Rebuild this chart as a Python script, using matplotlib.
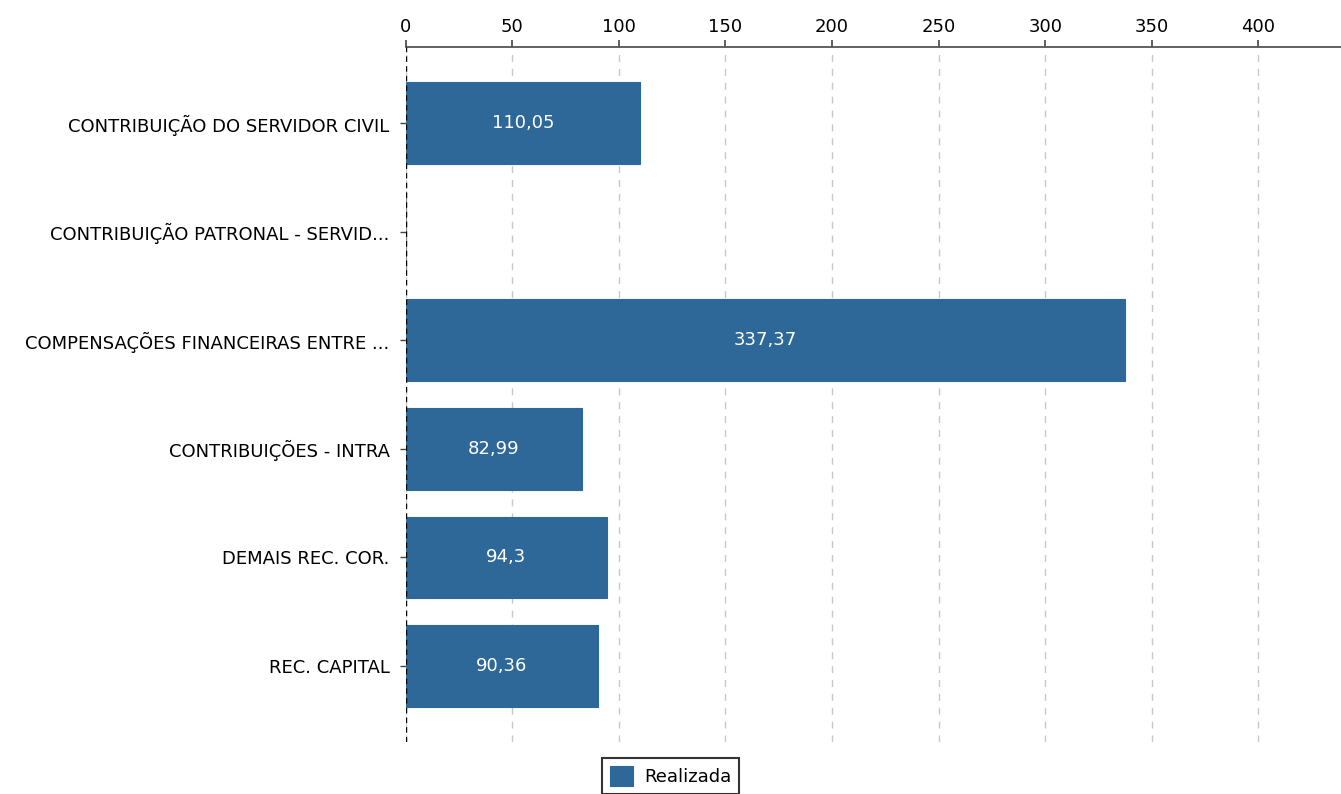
import matplotlib
matplotlib.use("Agg")
import matplotlib.pyplot as plt

FONT = "DejaVu Sans"
FS = 13
plt.rcParams["font.family"] = [FONT]

categories = [
    "CONTRIBUIÇÃO DO SERVIDOR CIVIL",
    "CONTRIBUIÇÃO PATRONAL - SERVID...",
    "COMPENSAÇÕES FINANCEIRAS ENTRE ...",
    "CONTRIBUIÇÕES - INTRA",
    "DEMAIS REC. COR.",
    "REC. CAPITAL",
]
realizada = [110.05, 0.3, 337.37, 82.99, 94.3, 90.36]
value_labels = ["110,05", "", "337,37", "82,99", "94,3", "90,36"]
xticks = [0, 50, 100, 150, 200, 250, 300, 350, 400]

bar_color = "#2e6898"

fig = plt.figure(figsize=(13.41, 7.94), dpi=100)
ax = fig.add_axes([0.3024, 0.0655, 0.6976, 0.8753])

ypos = list(range(len(categories)))
bars = ax.barh(ypos, realizada, height=0.75, color=bar_color,
               edgecolor=[bar_color if v > 1 else "#888888" for v in realizada],
               linewidth=0.8, label="Realizada", zorder=3)

for b, v, lab in zip(bars, realizada, value_labels):
    if lab:
        ax.text(v / 2, b.get_y() + b.get_height() / 2, lab, ha="center", va="center",
                color="white", fontsize=FS, zorder=4)

ax.set_yticks(ypos)
ax.set_yticklabels(categories, fontsize=FS)
ax.set_ylim(5.7, -0.7)
ax.set_xlim(0, 438.7)
ax.set_xticks(xticks)
ax.set_xticklabels([str(t) for t in xticks], fontsize=FS)
ax.xaxis.tick_top()
ax.tick_params(axis="x", colors="#444444", labelcolor="black", length=5, width=1.2, pad=3)
ax.tick_params(axis="y", colors="#444444", labelcolor="black", length=4, width=1, pad=7.5)

ax.grid(axis="x", linestyle=(0, (5, 5)), color="#c8c8c8", linewidth=1, zorder=0)
ax.set_axisbelow(True)

for s in ["right", "bottom", "left"]:
    ax.spines[s].set_visible(False)
ax.spines["top"].set_color("#555555")
ax.spines["top"].set_linewidth(1.3)
ax.axvline(0, color="black", linestyle=(0, (4, 3)), linewidth=1, zorder=5)

leg = fig.legend(handles=[bars], labels=["Realizada"], loc="upper center",
                 bbox_to_anchor=(670.5 / 1341, 1 - 758 / 794), borderaxespad=0,
                 prop={"size": FS},
                 frameon=True, fancybox=False, edgecolor="black",
                 handlelength=1.3, handleheight=1.3, handletextpad=0.6, borderpad=0.45)
leg.get_frame().set_linewidth(1.5)

fig.savefig("out.png", dpi=100)
